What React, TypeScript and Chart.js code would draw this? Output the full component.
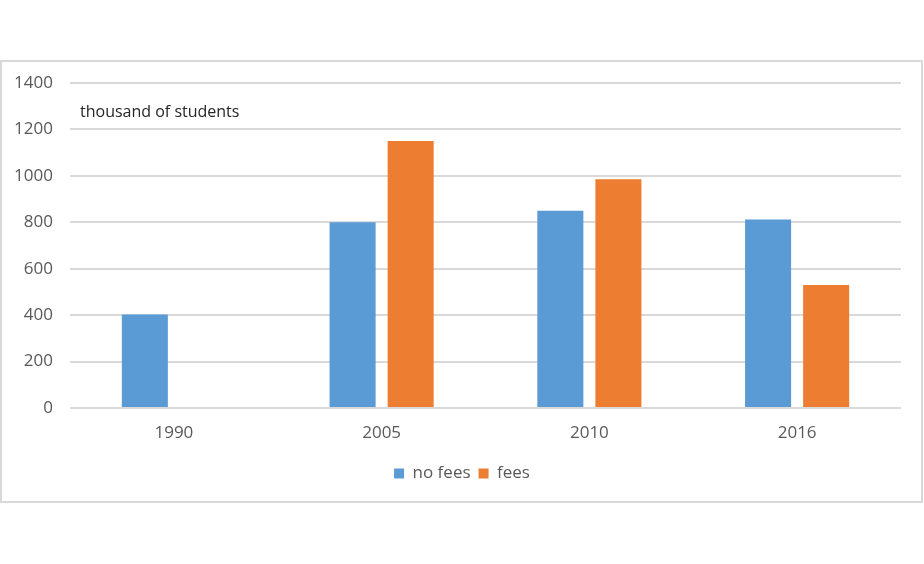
import React, { useEffect, useRef } from "react";
import { Chart, registerables } from "chart.js";

Chart.register(...registerables);

const categories = ["1990", "2005", "2010", "2016"];
const noFees = [403, 800, 850, 812];
const fees = [null, 1150, 985, 530];
const yTicks = [0, 200, 400, 600, 800, 1000, 1200, 1400];
const unitLabel = "thousand of students";
const seriesNames = ["no fees", "fees"];

const FONT = "'Open Sans', 'Liberation Sans', sans-serif";

const unitPlugin = {
  id: "unitLabel",
  afterDraw(chart: any) {
    const { ctx, chartArea, scales } = chart;
    const y = scales.y.getPixelForValue(1273);
    ctx.save();
    ctx.font = `16px ${FONT}`;
    ctx.fillStyle = "#262626";
    ctx.textAlign = "left";
    ctx.textBaseline = "middle";
    ctx.fillText(unitLabel, chartArea.left + 10, y);
    ctx.restore();
  },
};

export default function App() {
  const ref = useRef<HTMLCanvasElement | null>(null);
  useEffect(() => {
    if (!ref.current) return;
    const chart = new Chart(ref.current, {
      type: "bar",
      data: {
        labels: categories,
        datasets: [
          {
            label: seriesNames[0],
            data: noFees,
            backgroundColor: "#5b9bd5",
            categoryPercentage: 0.559,
            barPercentage: 0.793,
          },
          {
            label: seriesNames[1],
            data: fees as any,
            backgroundColor: "#ed7d31",
            categoryPercentage: 0.559,
            barPercentage: 0.793,
          },
        ],
      },
      options: {
        animation: false,
        responsive: false,
        maintainAspectRatio: false,
        layout: { padding: { left: 0, right: 0, top: 83, bottom: 72 } },
        plugins: {
          legend: {
            position: "bottom",
            labels: {
              boxWidth: 10,
              boxHeight: 10,
              color: "#595959",
              font: { family: FONT, size: 17 },
              padding: 8,
            },
          },
          tooltip: { enabled: false },
        },
        scales: {
          x: {
            grid: { display: false, drawTicks: false },
            border: { display: false },
            ticks: {
              color: "#595959",
              font: { family: FONT, size: 17 },
              padding: 15,
            },
            afterFit: (s: any) => {
              s.height = 49;
            },
          },
          y: {
            min: 0,
            max: 1400,
            afterBuildTicks: (s: any) => {
              s.ticks = yTicks.map((v) => ({ value: v }));
            },
            grid: { color: "#d9d9d9", lineWidth: 2, drawTicks: false },
            border: { display: false },
            ticks: {
              color: "#595959",
              font: { family: FONT, size: 17 },
              padding: 17,
              callback: (v: any) => String(v),
            },
            afterFit: (s: any) => {
              s.width = 70;
            },
          },
          ySpacer: {
            position: "right",
            display: true,
            grid: { display: false, drawTicks: false },
            border: { display: false },
            ticks: { display: false },
            afterFit: (s: any) => {
              s.width = 23;
            },
          },
        },
      },
      plugins: [unitPlugin],
    });
    return () => chart.destroy();
  }, []);
  return (
    <div style={{ position: "absolute", left: 0, top: 0, width: 924, height: 564, background: "#fff" }}>
      <div
        style={{
          position: "absolute",
          left: 0,
          top: 60,
          width: 923,
          height: 443,
          border: "2px solid #d9d9d9",
          boxSizing: "border-box",
        }}
      />
      <canvas ref={ref} width={924} height={564} style={{ position: "absolute", left: 0, top: 0 }} />
    </div>
  );
}
